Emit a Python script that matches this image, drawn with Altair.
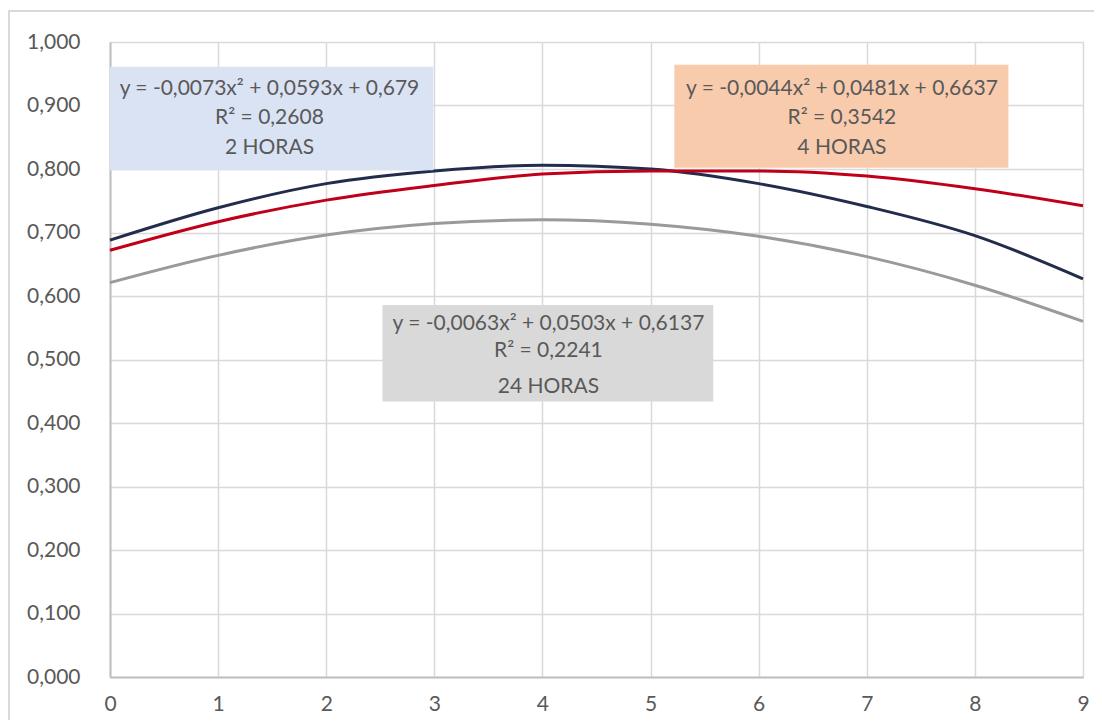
import altair as alt
import pandas as pd

# ---- data ----
x_vals = [0, 1, 2, 3, 4, 5, 6, 7, 8, 9]
serie_2h = [0.688, 0.739, 0.777, 0.797, 0.806, 0.800, 0.777, 0.741, 0.695, 0.627]
serie_4h = [0.672, 0.717, 0.751, 0.774, 0.792, 0.797, 0.797, 0.789, 0.769, 0.742]
serie_24h = [0.621, 0.664, 0.696, 0.714, 0.720, 0.713, 0.694, 0.662, 0.617, 0.560]
series_names = ["2 HORAS", "4 HORAS", "24 HORAS"]
series_colors = ["#222c4c", "#c00018", "#9a9a9a"]

x_ticks = [0, 1, 2, 3, 4, 5, 6, 7, 8, 9]
y_ticks = [0.0, 0.1, 0.2, 0.3, 0.4, 0.5, 0.6, 0.7, 0.8, 0.9, 1.0]

# trendline label boxes (data coordinates)
box_x0 = [0.0, 5.22, 2.52]
box_x1 = [2.99, 8.31, 5.58]
box_y0 = [0.798, 0.802, 0.434]
box_y1 = [0.961, 0.964, 0.586]
box_fill = ["#dae3f3", "#f8cbad", "#d9d9d9"]

label_text = [
    "y = -0,0073x² + 0,0593x + 0,679", "R² = 0,2608", "2 HORAS",
    "y = -0,0044x² + 0,0481x + 0,6637", "R² = 0,3542", "4 HORAS",
    "y = -0,0063x² + 0,0503x + 0,6137", "R² = 0,2241", "24 HORAS",
]
label_x = [1.475, 1.475, 1.475, 6.77, 6.77, 6.77, 4.055, 4.055, 4.055]
label_y = [0.926, 0.880, 0.833, 0.926, 0.880, 0.833, 0.556, 0.514, 0.457]

# ---- tables ----
rows = []
for name, vals in zip(series_names, [serie_2h, serie_4h, serie_24h]):
    for xv, yv in zip(x_vals, vals):
        rows.append({"x": xv, "y": yv, "serie": name})
lines_df = pd.DataFrame(rows)

boxes_df = pd.DataFrame({"x0": box_x0, "x1": box_x1, "y0": box_y0,
                         "y1": box_y1, "fill": box_fill})
labels_df = pd.DataFrame({"x": label_x, "y": label_y, "t": label_text})

W, H = 973, 635

xscale = alt.Scale(domain=[0, 9], nice=False, zero=False)
yscale = alt.Scale(domain=[0, 1], nice=False)

xaxis = alt.Axis(values=x_ticks, title=None, grid=True, gridColor="#d9d9d9",
                 gridWidth=1.5, domainColor="#bfbfbf", domainWidth=2,
                 ticks=False, labelPadding=16, labelFontSize=21, format="d",
                 labelColor="#595959", labelFont="Lato", labelFlush=False)
yaxis = alt.Axis(values=y_ticks, title=None, grid=True, gridColor="#d9d9d9",
                 gridWidth=1.5, domainColor="#bfbfbf", domainWidth=2,
                 ticks=False, labelPadding=30, labelFontSize=21,
                 labelColor="#595959", labelFont="Lato",
                 labelExpr="replace(format(datum.value, '.3f'), '.', ',')")

frame = alt.Chart(pd.DataFrame({"a": [1]})).mark_rect(
    fill=None, stroke="#d9d9d9", strokeWidth=2
).encode(x=alt.value(-101), y=alt.value(-31), x2=alt.value(1300), y2=alt.value(900))

lines = alt.Chart(lines_df).mark_line(strokeWidth=3, interpolate="monotone").encode(
    x=alt.X("x:Q", scale=xscale, axis=xaxis),
    y=alt.Y("y:Q", scale=yscale, axis=yaxis),
    color=alt.Color("serie:N", scale=alt.Scale(domain=series_names, range=series_colors),
                    legend=None),
    detail="serie:N",
)

boxes = alt.Chart(boxes_df).mark_rect().encode(
    x=alt.X("x0:Q", scale=xscale), x2="x1:Q",
    y=alt.Y("y0:Q", scale=yscale), y2="y1:Q",
    fill=alt.Fill("fill:N", scale=None),
)

labels = alt.Chart(labels_df).mark_text(
    font="Lato", fontSize=21, color="#595959", align="center", baseline="middle"
).encode(
    x=alt.X("x:Q", scale=xscale),
    y=alt.Y("y:Q", scale=yscale),
    text="t:N",
)

chart = alt.layer(frame, lines, boxes, labels).properties(
    width=W, height=H,
    autosize=alt.AutoSizeParams(type="none"),
    padding={"left": 102, "top": 34, "right": 11, "bottom": 43},
).configure_view(stroke=None)

chart.save("out.html", embed_options={"renderer": "svg", "actions": False})
